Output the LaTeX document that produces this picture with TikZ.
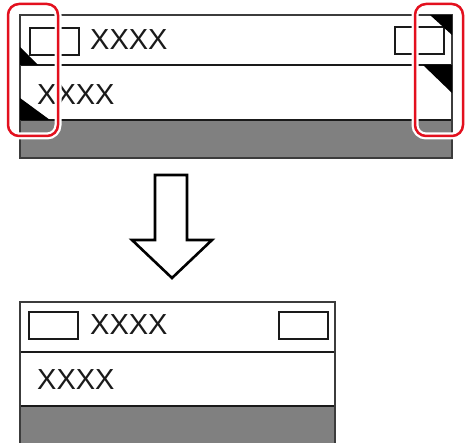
\documentclass[tikz,border=0pt]{standalone}
\usepackage{fontspec}
\setmainfont{Liberation Sans}
\usepackage{tikz}
\usetikzlibrary{positioning}
\definecolor{ink}{HTML}{1A1A1A}
\definecolor{frame}{HTML}{3C3C3C}
\definecolor{band}{HTML}{808080}
\definecolor{hilite}{HTML}{E3101E}
\tikzset{
  panel/.style  ={draw=frame, line width=1.2pt, fill=white},
  bandfill/.style={fill=band},
  rowline/.style={draw=ink, line width=1.2pt},
  chip/.style   ={draw=ink, line width=1.7pt, fill=white, inner sep=0pt,
                  minimum width=49pt, minimum height=27pt, anchor=north west},
  tri/.style    ={fill=black},
  lbl/.style    ={anchor=base west, inner sep=0pt, text=ink,
                  font=\fontsize{29}{29}\selectfont},
  ring/.style   ={draw=hilite, line width=2.5pt, rounded corners=11pt,
                  preaction={draw=white, line width=7pt}},
  bigarrow/.style={draw=black, line width=2.6pt, fill=white, miter limit=4}
}

\begin{document}
\begin{tikzpicture}[x=1pt, y=-1pt]
  \useasboundingbox (0,0) rectangle (466,443);

  % Panel before
  \draw[panel] (20,15) rectangle (452,158);
  \fill[bandfill] (20,120) rectangle (452,158);
  \draw[rowline] (20,65) -- (452,65);
  \draw[rowline] (20,120) -- (452,120);
  \draw[frame, line width=1.2pt] (20,15) rectangle (452,158);
  \node[chip] (chipTL) at (29,27) {};
  \node[chip] (chipTR) at (394,26) {};
  \node[lbl] (headTop) at (90,50) {XXXX};
  \node[lbl] (bodyTop) at (37,105) {XXXX};

  % Corner marks
  \fill[tri] (20,47) -- (20,65) -- (38,65) -- cycle;
  \fill[tri] (20,98) -- (20,120) -- (50,120) -- cycle;
  \fill[tri] (430,15) -- (452,15) -- (452,35) -- cycle;
  \fill[tri] (423,65) -- (452,65) -- (452,93) -- cycle;

  % Highlights
  \draw[ring] (8,4) rectangle (58,136);
  \draw[ring] (415,4) rectangle (463,136);

  % Arrow
  \draw[bigarrow] (155,175) -- (187,175) -- (187,240) -- (212,240)
    -- (172,278) -- (132,240) -- (155,240) -- cycle;

  % Panel after
  \draw[panel] (20,302) rectangle (335,446);
  \fill[bandfill] (20,406) rectangle (335,446);
  \draw[rowline] (20,352) -- (335,352);
  \draw[rowline] (20,406) -- (335,406);
  \draw[frame, line width=1.2pt] (20,302) rectangle (335,446);
  \node[chip] (chipBL) at (28,311) {};
  \node[chip] (chipBR) at (278,311) {};
  \node[lbl] (headBot) at (90,335) {XXXX};
  \node[lbl] (bodyBot) at (37,390) {XXXX};
\end{tikzpicture}
\end{document}
